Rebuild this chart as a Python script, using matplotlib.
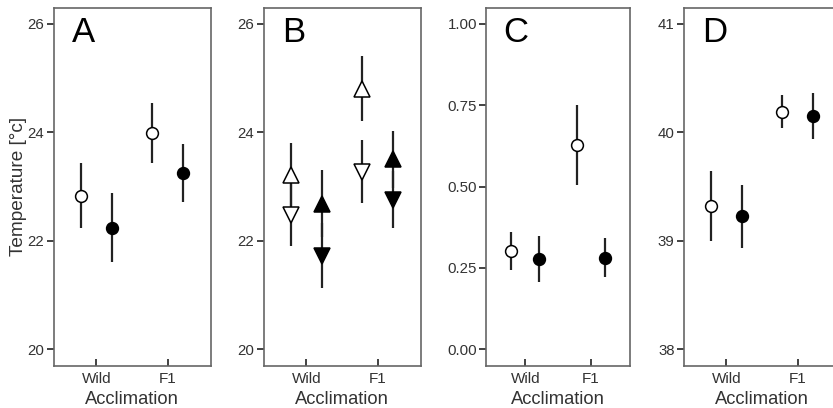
import numpy as np
import matplotlib
matplotlib.use("Agg")
import matplotlib.pyplot as plt

plt.rcParams['font.family'] = ['Liberation Sans', 'DejaVu Sans']

groups = ["Wild", "F1"]

# panel A
a_open = [22.83, 23.99]
a_open_err = [0.60, 0.55]
a_filled = [22.24, 23.25]
a_filled_err = [0.64, 0.54]

# panel B (up / down triangles)
b_open_up = [23.22, 24.80]
b_open_up_err = [0.58, 0.60]
b_open_down = [22.47, 23.27]
b_open_down_err = [0.57, 0.58]
b_filled_up = [22.68, 23.50]
b_filled_up_err = [0.62, 0.53]
b_filled_down = [21.72, 22.76]
b_filled_down_err = [0.60, 0.52]

# panel C
c_open = [0.302, 0.627]
c_open_err = [0.058, 0.122]
c_filled = [0.278, 0.281]
c_filled_err = [0.070, 0.060]

# panel D
d_open = [39.32, 40.19]
d_open_err = [0.32, 0.15]
d_filled = [39.225, 40.15]
d_filled_err = [0.29, 0.215]

W, H = 833, 408
fig = plt.figure(figsize=(W / 100, H / 100), dpi=100)

frame_col = "#666666"
text_col = "#333333"
line_col = "#222222"
off = 0.215
x = np.arange(1, len(groups) + 1)


def make_ax(left, right, ylim, yticks, yfmt, letter):
    top, bottom = 7.5, 365.5
    ax = fig.add_axes([left / W, 1 - bottom / H, (right - left) / W, (bottom - top) / H])
    ax.set_xlim(0.4, 2.6)
    ax.set_ylim(*ylim)
    ax.set_xticks(x)
    ax.set_xticklabels(groups)
    ax.set_yticks(yticks)
    ax.set_yticklabels([yfmt.format(t) for t in yticks])
    for s in ax.spines.values():
        s.set_color(frame_col)
        s.set_linewidth(1.2)
    ax.tick_params(axis='y', direction='out', length=5, width=1.2, color=line_col,
                   labelsize=10.8, labelcolor=text_col, pad=1.5)
    ax.tick_params(axis='x', direction='in', length=5, width=1.2, color=line_col,
                   labelsize=11, labelcolor=text_col, pad=4.5)
    ax.set_xlabel("Acclimation", fontsize=13.2, color=text_col, labelpad=4)
    ax.text(0.12, 0.975, letter, transform=ax.transAxes, fontsize=25,
            va='top', ha='left', color='black')
    return ax


def points(ax, xs, ys, errs, marker, face, ms):
    ax.errorbar(xs, ys, yerr=errs, fmt='none', ecolor=line_col, elinewidth=1.6,
                capsize=0, zorder=2)
    ax.plot(xs, ys, linestyle='none', marker=marker, markersize=ms,
            markerfacecolor=face, markeredgecolor='black', markeredgewidth=1.1,
            zorder=3)


# A
ax = make_ax(53.5, 210.5, (19.7, 26.3), [20, 22, 24, 26], "{:d}", "A")
ax.set_ylabel("Temperature [°c]", fontsize=13.7, color=text_col, labelpad=0.5)
points(ax, x - off, a_open, a_open_err, 'o', 'white', 8.5)
points(ax, x + off, a_filled, a_filled_err, 'o', 'black', 8.5)

# B
ax = make_ax(263.5, 420.5, (19.7, 26.3), [20, 22, 24, 26], "{:d}", "B")
points(ax, x - off, b_open_up, b_open_up_err, '^', 'white', 11.5)
points(ax, x - off, b_open_down, b_open_down_err, 'v', 'white', 11.5)
points(ax, x + off, b_filled_up, b_filled_up_err, '^', 'black', 11.5)
points(ax, x + off, b_filled_down, b_filled_down_err, 'v', 'black', 11.5)

# C
ax = make_ax(486, 630, (-0.05, 1.05), [0, 0.25, 0.5, 0.75, 1.0], "{:.2f}", "C")
points(ax, x - off, c_open, c_open_err, 'o', 'white', 8.5)
points(ax, x + off, c_filled, c_filled_err, 'o', 'black', 8.5)

# D
ax = make_ax(683.5, 840.5, (37.85, 41.15), [38, 39, 40, 41], "{:d}", "D")
points(ax, x - off, d_open, d_open_err, 'o', 'white', 8.5)
points(ax, x + off, d_filled, d_filled_err, 'o', 'black', 8.5)

fig.savefig("out.png", dpi=100)
